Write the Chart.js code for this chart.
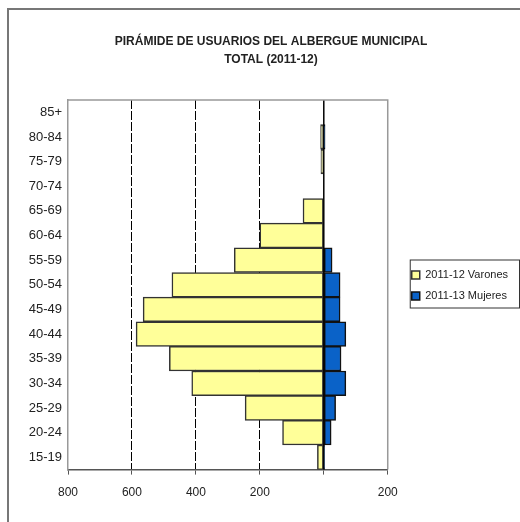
<!DOCTYPE html>
<html>
<head>
<meta charset="utf-8">
<script src="https://cdn.jsdelivr.net/npm/chart.js@4/dist/chart.umd.min.js"></script>
<style>
  html, body { margin: 0; padding: 0; background: #fff; }
  #wrap { width: 520px; height: 522px; }
</style>
</head>
<body>
<div id="wrap"><canvas id="myChart" width="520" height="522"></canvas></div>
<script>
// age groups, top to bottom
const grupos = ['85+', '80-84', '75-79', '70-74', '65-69', '60-64', '55-59', '50-54',
                '45-49', '40-44', '35-39', '30-34', '25-29', '20-24', '15-19'];
const varones = [0, 10, 9, 0, 65, 200, 280, 475, 565, 587, 483, 413, 246, 129, 20];
const mujeres = [0, 4, 0, 0, 0, 0, 26, 51, 51, 69, 54, 69, 37, 23, 2];
const titulo = ['PIRÁMIDE DE USUARIOS DEL ALBERGUE MUNICIPAL', 'TOTAL (2011-12)'];
const serieV = '2011-12 Varones';
const serieM = '2011-13 Mujeres';
const xMin = -800, xMax = 200, xStep = 200;
const gridVals = [-600, -400, -200];

const fontFam = '"Liberation Sans", Arial, sans-serif';

// frame, zero line, plot box, legend box
const extras = {
  id: 'extras',
  afterLayout(chart) {
    // legend sits a bit lower than chart.js centres it
    chart.legend.top += 25;
    chart.legend.bottom += 25;
  },
  beforeDraw(chart) {
    const ctx = chart.ctx;
    ctx.save();
    ctx.strokeStyle = '#777';
    ctx.lineWidth = 2;
    ctx.beginPath();
    ctx.moveTo(8, chart.height);
    ctx.lineTo(8, 9);
    ctx.lineTo(chart.width, 9);
    ctx.stroke();
    ctx.restore();
  },
  afterDatasetsDraw(chart) {
    const ctx = chart.ctx;
    const a = chart.chartArea;
    const x0 = chart.scales.x.getPixelForValue(0);
    ctx.save();
    ctx.strokeStyle = '#000';
    ctx.lineWidth = 1.5;
    ctx.beginPath();
    ctx.moveTo(x0, a.top);
    ctx.lineTo(x0, a.bottom);
    ctx.stroke();
    ctx.strokeStyle = '#999';
    ctx.lineWidth = 1.5;
    ctx.beginPath();
    ctx.moveTo(a.left, a.top);
    ctx.lineTo(a.right, a.top);
    ctx.lineTo(a.right, a.bottom);
    ctx.stroke();
    ctx.restore();
  },
  afterDraw(chart) {
    const hb = chart.legend.legendHitBoxes;
    if (!hb || !hb.length) return;
    const ctx = chart.ctx;
    const first = hb[0], last = hb[hb.length - 1];
    const l = first.left - 2;
    const t = first.top - 10;
    const r = chart.legend.right + 1;
    const b = last.top + last.height + 6;
    ctx.save();
    ctx.strokeStyle = '#333';
    ctx.lineWidth = 1;
    ctx.strokeRect(l + 0.5, t + 0.5, r - l, b - t);
    ctx.restore();
  }
};

const data = {
  labels: grupos,
  datasets: [{
    label: serieV,
    data: varones.map(v => -v),
    backgroundColor: '#ffff99',
    borderColor: '#333',
    borderWidth: 1.5,
    borderSkipped: false,
    barPercentage: 1,
    categoryPercentage: 1
  }, {
    label: serieM,
    data: mujeres,
    backgroundColor: '#0a62c8',
    borderColor: '#111',
    borderWidth: 1.5,
    borderSkipped: false,
    barPercentage: 1,
    categoryPercentage: 1
  }]
};

const config = {
  type: 'bar',
  data: data,
  options: {
    indexAxis: 'y',
    responsive: false,
    animation: false,
    layout: { padding: { left: 24, right: 2, top: 10, bottom: 11 } },
    plugins: {
      tooltip: { enabled: false },
      title: {
        display: true,
        text: titulo,
        color: '#222',
        font: { family: fontFam, size: 12, weight: 'bold', lineHeight: 1.5 },
        padding: { top: 23, bottom: 31 }
      },
      legend: {
        position: 'right',
        maxWidth: 130,
        labels: {
          boxWidth: 8,
          boxHeight: 8,
          padding: 10,
          color: '#222',
          font: { family: fontFam, size: 11 }
        }
      }
    },
    scales: {
      x: {
        stacked: true,
        min: xMin,
        max: xMax,
        ticks: {
          stepSize: xStep,
          color: '#222',
          padding: 11,
          font: { family: fontFam, size: 12 },
          callback: v => v === 0 ? '' : String(Math.abs(v))
        },
        grid: {
          color: c => gridVals.includes(c.tick && c.tick.value) ? '#000' : 'rgba(0,0,0,0)',
          tickColor: '#555',
          tickLength: 5,
          lineWidth: 1
        },
        border: { display: true, color: '#555', width: 1.5, dash: [9, 2] }
      },
      y: {
        stacked: true,
        ticks: {
          color: '#222',
          padding: 6,
          font: { family: fontFam, size: 13 }
        },
        grid: { display: false, drawTicks: false },
        border: { display: true, color: '#999', width: 1.5 },
        afterFit: s => { s.width = 44; }
      },
      y2: {
        type: 'linear',
        position: 'right',
        display: true,
        ticks: { display: false },
        grid: { display: false, drawTicks: false },
        border: { display: false },
        afterFit: s => { s.width = 14; }
      }
    }
  },
  plugins: [extras]
};

const myChart = new Chart(document.getElementById('myChart'), config);
</script>
</body>
</html>
